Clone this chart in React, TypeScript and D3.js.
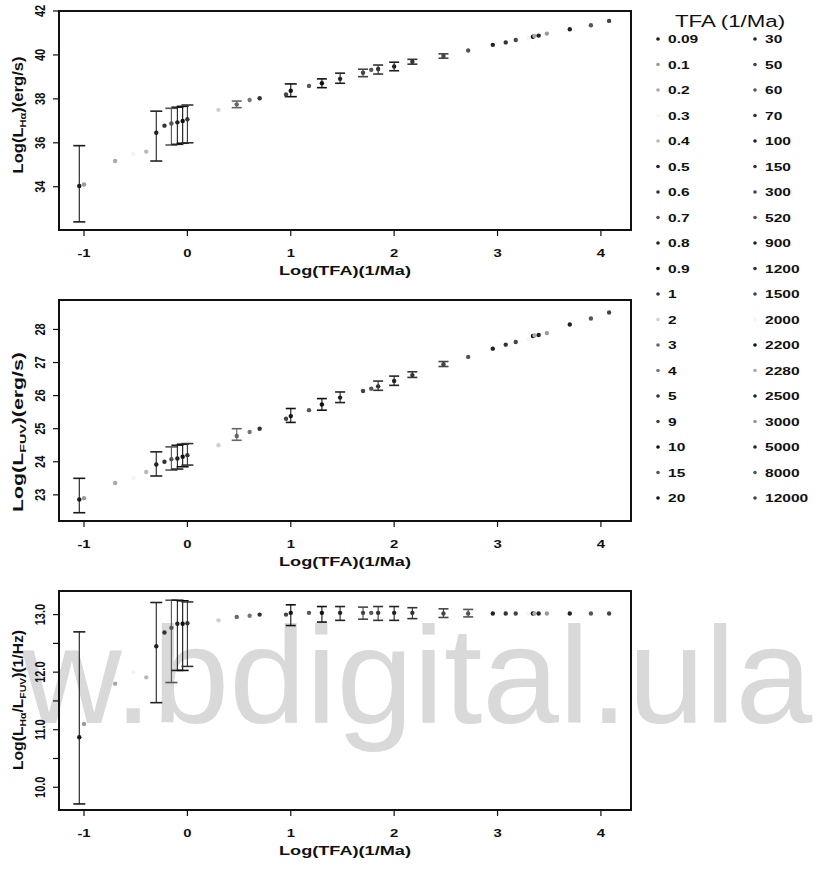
import React from "react";
import * as d3 from "d3";

// ---------- DATA ----------
const tfa = [0.09, 0.1, 0.2, 0.3, 0.4, 0.5, 0.6, 0.7, 0.8, 0.9, 1, 2, 3, 4, 5, 9, 10, 15, 20,
  30, 50, 60, 70, 100, 150, 300, 520, 900, 1200, 1500, 2000, 2200, 2280, 2500, 3000, 5000, 8000, 12000];
const tfaLabels = ["0.09", "0.1", "0.2", "0.3", "0.4", "0.5", "0.6", "0.7", "0.8", "0.9", "1", "2", "3", "4", "5", "9", "10", "15", "20",
  "30", "50", "60", "70", "100", "150", "300", "520", "900", "1200", "1500", "2000", "2200", "2280", "2500", "3000", "5000", "8000", "12000"];
const seriesColor = ["#1a1a1a", "#9a9a9a", "#a8a8a8", "#f4f4f4", "#b8b8b8", "#222", "#333", "#555", "#222", "#111", "#333", "#cfcfcf", "#666", "#777", "#333", "#444", "#111", "#555", "#111",
  "#222", "#444", "#555", "#333", "#222", "#333", "#444", "#555", "#222", "#333", "#444", "#f4f4f4", "#111", "#aaa", "#222", "#999", "#222", "#555", "#444"];

// Log(L_Halpha)
const haVal = [34.03, 34.1, 35.17, 35.5, 35.6, 36.46, 36.78, 36.88, 36.93, 36.99, 37.07, 37.5, 37.75, 37.95, 38.03, 38.2, 38.37, 38.59, 38.71,
  38.91, 39.19, 39.32, 39.36, 39.47, 39.69, 39.95, 40.2, 40.46, 40.57, 40.68, 40.75, 40.83, 40.86, 40.88, 40.97, 41.17, 41.35, 41.55];
const haLo = [32.4, null, null, null, null, 35.17, null, 35.9, 35.93, 35.98, 36.0, null, 37.6, null, null, null, 38.1, null, 38.51,
  38.71, 39.01, null, 39.13, 39.28, 39.58, 39.85, null, null, null, null, null, null, null, null, null, null, null, null];
const haHi = [35.87, null, null, null, null, 37.44, null, 37.57, 37.62, 37.66, 37.72, null, 37.9, null, null, null, 38.68, null, 38.91,
  39.17, 39.35, null, 39.54, 39.67, 39.8, 40.05, null, null, null, null, null, null, null, null, null, null, null, null];

// Log(L_FUV)
const fuvVal = [22.86, 22.9, 23.36, 23.5, 23.69, 23.92, 24.0, 24.08, 24.1, 24.15, 24.2, 24.5, 24.78, 24.9, 25.0, 25.3, 25.38, 25.56, 25.73,
  25.94, 26.14, 26.21, 26.28, 26.44, 26.62, 26.95, 27.17, 27.42, 27.54, 27.62, 27.7, 27.8, 27.82, 27.83, 27.89, 28.15, 28.33, 28.51];
const fuvLo = [22.46, null, null, null, null, 23.57, null, 23.75, 23.78, 23.85, 23.9, null, 24.65, null, null, null, 25.19, null, 25.56,
  25.79, null, null, 26.16, 26.31, 26.55, 26.88, null, null, null, null, null, null, null, null, null, null, null, null];
const fuvHi = [23.5, null, null, null, null, 24.3, null, 24.45, 24.5, 24.53, 24.55, null, 25.0, null, null, null, 25.61, null, 25.91,
  26.11, null, null, 26.44, 26.59, 26.72, 27.03, null, null, null, null, null, null, null, null, null, null, null, null];

// Log(L_Halpha / L_FUV)
const ratioVal = [10.87, 11.1, 11.8, 12.0, 11.91, 12.45, 12.69, 12.77, 12.84, 12.84, 12.85, 12.9, 12.96, 12.98, 13.0, 13.0, 13.03, 13.03, 13.03,
  13.03, 13.03, 13.03, 13.03, 13.03, 13.03, 13.02, 13.02, 13.02, 13.02, 13.02, 13.02, 13.02, 13.02, 13.02, 13.02, 13.02, 13.02, 13.02];
const ratioLo = [9.71, null, null, null, null, 11.47, null, 11.82, 12.03, 12.03, 12.1, null, null, null, null, null, 12.81, null, 12.87,
  12.9, 12.92, null, 12.9, 12.9, 12.93, 12.95, 12.96, null, null, null, null, null, null, null, null, null, null, null];
const ratioHi = [12.7, null, null, null, null, 13.21, null, 13.25, 13.25, 13.24, 13.22, null, null, null, null, null, 13.17, null, 13.14,
  13.14, 13.13, null, 13.14, 13.14, 13.12, 13.1, 13.09, null, null, null, null, null, null, null, null, null, null, null];

const xTicks = [-1, 0, 1, 2, 3, 4];
const haTicks = [34, 36, 38, 40, 42];
const fuvTicks = [23, 24, 25, 26, 27, 28];
const ratioTicks = [10, 10.5, 11, 11.5, 12, 12.5, 13];

// axis titles as segments: [text, isSubscript]
const haTitle: [string, boolean][] = [["Log(L", false], ["H\u03b1", true], [")(erg/s)", false]];
const fuvTitle: [string, boolean][] = [["Log(L", false], ["FUV", true], [")(erg/s)", false]];
const ratioTitle: [string, boolean][] = [["Log(L", false], ["H\u03b1", true], ["/L", false], ["FUV", true], [")(1/Hz)", false]];

// ---------- LAYOUT ----------
const W = 820, H = 869;
const FONT = "'Liberation Sans', Arial, Helvetica, sans-serif";
const SX = 1.35;

function T({ x, y, rot = 0, sx = SX, anchor = "middle", size = 11, weight = "bold", len, fill = "#111", children }: any) {
  return (
    <text
      transform={`translate(${x},${y}) scale(${sx},1)${rot ? ` rotate(${rot})` : ""}`}
      textAnchor={anchor}
      fontSize={size}
      fontWeight={weight}
      fontFamily={FONT}
      fill={fill}
      textLength={len}
      lengthAdjust={len ? "spacingAndGlyphs" : undefined}
    >
      {children}
    </text>
  );
}

function segs(parts: [string, boolean][]) {
  let prevSub = false;
  return parts.map(([s, isSub], k) => {
    const dy = isSub && !prevSub ? 2.5 : !isSub && prevSub ? -2.5 : 0;
    prevSub = isSub;
    return (
      <tspan key={k} dy={dy || undefined} fontSize={isSub ? 8 : 12}>{s}</tspan>
    );
  });
}

const x = d3.scaleLinear().domain([-1.242, 4.291]).range([59, 631]);

type PanelDef = {
  top: number; bottom: number; domain: [number, number]; ticks: number[];
  label: (v: number) => string | null;
  vals: (number | null)[]; lo: (number | null)[]; hi: (number | null)[];
  title: [string, boolean][]; titleLen: number; titleY: number;
};

const panels: PanelDef[] = [
  {
    top: 11, bottom: 230, domain: [32.03, 42], ticks: haTicks, label: (v) => String(v),
    vals: haVal, lo: haLo, hi: haHi, title: haTitle, titleLen: 117, titleY: 115,
  },
  {
    top: 300, bottom: 521, domain: [22.21, 28.89], ticks: fuvTicks, label: (v) => String(v),
    vals: fuvVal, lo: fuvLo, hi: fuvHi, title: fuvTitle, titleLen: 160, titleY: 432,
  },
  {
    top: 591, bottom: 810, domain: [9.605, 13.41], ticks: ratioTicks,
    label: (v) => (Number.isInteger(v) ? d3.format(".1f")(v) : null),
    vals: ratioVal, lo: ratioLo, hi: ratioHi, title: ratioTitle, titleLen: 140, titleY: 700,
  },
];

function Panel({ p }: { p: PanelDef }) {
  const y = d3.scaleLinear().domain(p.domain).range([p.bottom, p.top]);
  const [x0, x1] = x.range();
  return (
    <g>
      {tfa.map((t, i) => {
        const lo = p.lo[i], hi = p.hi[i];
        if (lo == null || hi == null) return null;
        const cx = x(Math.log10(t));
        const hw = hi - lo > 0.5 ? 6 : 5;
        const c = seriesColor[i];
        return (
          <g key={"e" + i} stroke={c} strokeWidth={1.1} fill="none">
            <line x1={cx} x2={cx} y1={y(lo)} y2={y(hi)} />
            <line x1={cx - hw} x2={cx + hw} y1={y(lo)} y2={y(lo)} strokeWidth={1.6} />
            <line x1={cx - hw} x2={cx + hw} y1={y(hi)} y2={y(hi)} strokeWidth={1.6} />
          </g>
        );
      })}
      {tfa.map((t, i) => {
        const v = p.vals[i];
        if (v == null) return null;
        return <circle key={"p" + i} cx={x(Math.log10(t))} cy={y(v)} r={2.2} fill={seriesColor[i]} />;
      })}
      <rect x={x0} y={p.top} width={x1 - x0} height={p.bottom - p.top} fill="none" stroke="#111" strokeWidth={2} />
      {xTicks.map((t) => (
        <g key={"xt" + t}>
          <line x1={x(t)} x2={x(t)} y1={p.bottom} y2={p.bottom + 6} stroke="#111" strokeWidth={1.2} />
          <T x={x(t)} y={p.bottom + 27} size={11}>{String(t)}</T>
        </g>
      ))}
      <T x={345} y={p.bottom + 45} sx={1} size={12} len={132}>Log(TFA)(1/Ma)</T>
      {p.ticks.map((t) => {
        const lab = p.label(t);
        return (
          <g key={"yt" + t}>
            <line x1={x0} x2={x0 - 6} y1={y(t)} y2={y(t)} stroke="#111" strokeWidth={1.2} />
            {lab != null && <T x={45} y={y(t)} rot={-90} sx={1.25} size={11}>{lab}</T>}
          </g>
        );
      })}
      <T x={23} y={p.titleY} rot={-90} sx={1.2} size={12} len={p.titleLen}>{segs(p.title)}</T>
    </g>
  );
}

function Legend() {
  const rowY = (k: number) => 39 + k * 25.5;
  return (
    <g>
      <T x={730} y={27} size={16.5} weight="normal">TFA (1/Ma)</T>
      {tfa.map((t, i) => {
        const col = i < 19 ? 0 : 1;
        const k = col === 0 ? i : i - 19;
        const mx = col === 0 ? 658 : 755;
        const cy = rowY(k);
        return (
          <g key={"l" + i}>
            <circle cx={mx} cy={cy} r={1.8} fill={seriesColor[i]} />
            <T x={mx + 10} y={cy + 4.3} anchor="start" size={11.5}>{tfaLabels[i]}</T>
          </g>
        );
      })}
    </g>
  );
}

export default function App() {
  return (
    <svg width={W} height={H} style={{ position: "absolute", left: 0, top: 0, background: "#fff" }}>
      <rect x={0} y={0} width={W} height={H} fill="#fff" />
      <text x={22} y={723} fontSize={138} fontFamily={FONT} fill="#d9d9d9">w.bdigital.ula</text>
      {panels.map((p, i) => <Panel key={i} p={p} />)}
      <Legend />
    </svg>
  );
}
